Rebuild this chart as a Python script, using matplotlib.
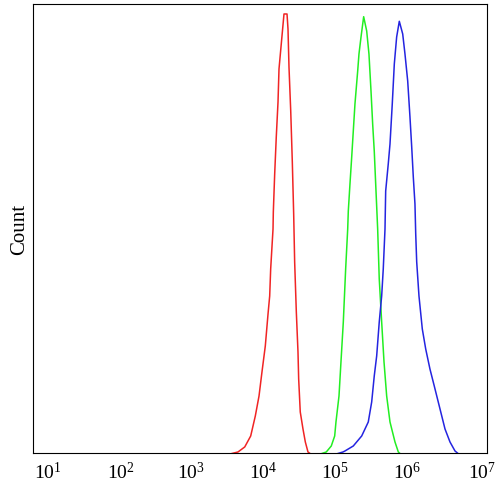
import matplotlib.pyplot as plt
import numpy as np

plt.rcParams['font.family'] = ['Liberation Serif', 'DejaVu Serif']
plt.rcParams['mathtext.fontset'] = 'custom'
plt.rcParams['mathtext.rm'] = 'Liberation Serif'

# log10 fluorescence intensity vs. count
red_log = [3.630, 3.709, 3.798, 3.877, 3.938, 3.987, 4.026, 4.070, 4.106, 4.128,
           4.141, 4.172, 4.176, 4.194, 4.215, 4.238, 4.251, 4.281, 4.317, 4.357,
           4.370, 4.383, 4.406, 4.427, 4.445, 4.458, 4.480, 4.502, 4.511, 4.532,
           4.568, 4.599, 4.634, 4.661]
red_cnt = [0, 1.5, 6.5, 17.5, 37.5, 57.5, 81.5, 107.5, 139.5, 157.5,
           184.5, 224.5, 241.5, 279.5, 316.5, 351.5, 384.5, 409.5, 439.5, 439.5,
           424.5, 386.5, 342.5, 291.5, 239.5, 191.5, 141.5, 101.5, 74.5, 41.5,
           24.5, 11.5, 1.5, 0]

green_log = [4.819, 4.876, 4.942, 4.987, 5.004, 5.044, 5.070, 5.101, 5.132, 5.159,
             5.167, 5.189, 5.212, 5.233, 5.255, 5.291, 5.308, 5.335, 5.370, 5.410,
             5.440, 5.467, 5.489, 5.510, 5.529, 5.555, 5.576, 5.608, 5.639, 5.674,
             5.718, 5.784, 5.828, 5.850]
green_cnt = [0, 1.5, 7.5, 17.5, 31.5, 57.5, 91.5, 131.5, 184.5, 224.5,
             242.5, 269.5, 296.5, 322.5, 349.5, 382.5, 399.5, 416.5, 436.8, 422.5,
             399.5, 362.5, 329.5, 302.5, 269.5, 224.5, 174.5, 131.5, 91.5, 57.5,
             31.5, 11.5, 1.5, 0]

blue_log = [5.031, 5.097, 5.123, 5.233, 5.344, 5.431, 5.476, 5.510, 5.542, 5.576,
            5.608, 5.629, 5.652, 5.661, 5.695, 5.718, 5.748, 5.775, 5.806, 5.841,
            5.886, 5.916, 5.952, 5.982, 6.005, 6.026, 6.048, 6.058, 6.071, 6.101,
            6.145, 6.190, 6.246, 6.303, 6.379, 6.445, 6.511, 6.577, 6.617]
blue_cnt = [0, 1.5, 2.5, 7.5, 17.5, 31.5, 51.5, 77.5, 97.5, 131.5,
            157.5, 184.5, 224.5, 262.5, 289.5, 309.5, 349.5, 389.5, 416.5, 432.2,
            419.5, 399.5, 372.5, 336.5, 306.5, 276.5, 249.5, 219.5, 191.5, 157.5,
            124.5, 104.5, 84.5, 67.5, 44.5, 24.5, 11.5, 2.5, 0]

tick_labels = [r'$\mathregular{10^{%d}}$' % k for k in range(1, 8)]
label_pos = [0.032, 0.194, 0.347, 0.508, 0.666, 0.824, 0.989]

fig = plt.figure(figsize=(4.98, 4.89), dpi=100)
ax = fig.add_axes([0.0663, 0.0706, 0.9116, 0.9192])

ax.plot(10 ** np.array(red_log), red_cnt, color='#f02424', lw=1.1)
ax.plot(10 ** np.array(green_log), green_cnt, color='#22ee22', lw=1.1)
ax.plot(10 ** np.array(blue_log), blue_cnt, color='#2424e0', lw=1.1)

ax.set_xscale('log')
ax.set_xlim(10, 1e7)
ax.set_ylim(0, 449.5)
ax.set_xticks([])
ax.set_yticks([])
ax.minorticks_off()
for sp in ax.spines.values():
    sp.set_linewidth(0.8)

for pos, lab in zip(label_pos, tick_labels):
    ax.text(pos, -0.04, lab, transform=ax.transAxes, ha='center', va='center',
            fontsize=14)

ax.set_ylabel('Count', fontsize=15, labelpad=3)

plt.savefig('out.png', dpi=100)
